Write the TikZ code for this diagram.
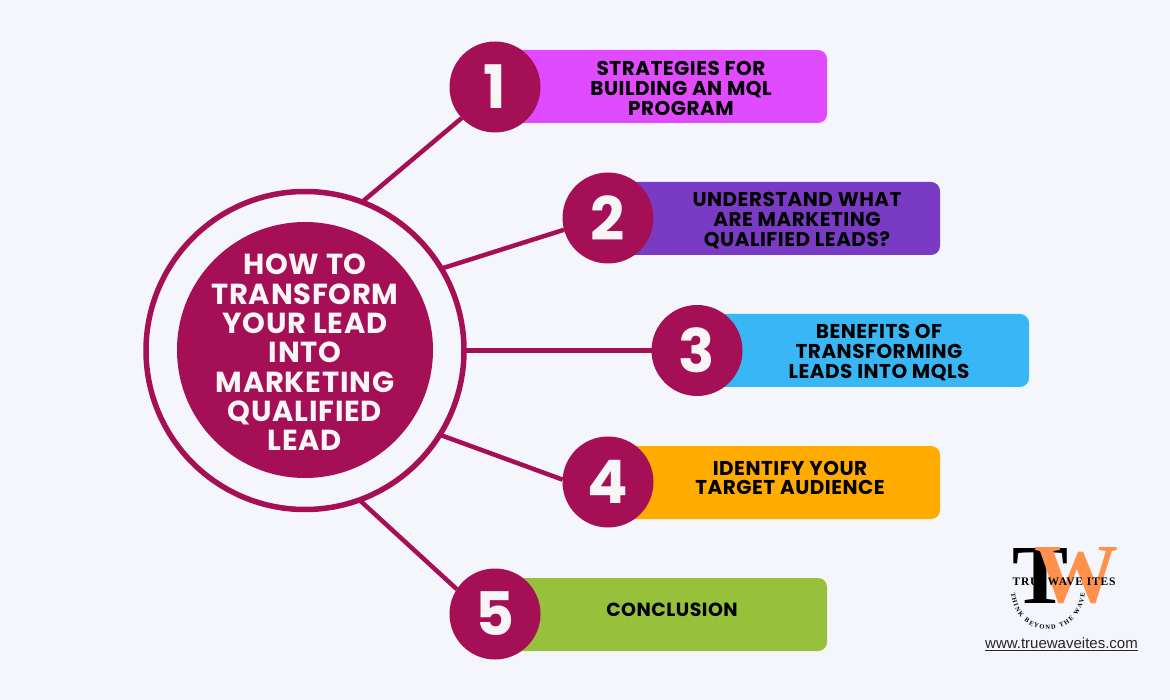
\documentclass[tikz,border=0pt]{standalone}
\usepackage{tikz}
\usepackage{fontspec}
\setmainfont{Poppins}[LetterSpace=2.5]
\newfontfamily\logofont[LetterSpace=7]{Liberation Serif}
\newfontfamily\arcfont[LetterSpace=4]{Liberation Serif}
\newfontfamily\urlfont{Liberation Sans}
\usetikzlibrary{positioning}
\usetikzlibrary{decorations.text}
\definecolor{pagebg}{HTML}{F4F6FC}
\definecolor{maroon}{HTML}{A50F55}
\definecolor{barpink}{HTML}{E04BFF}
\definecolor{barpurple}{HTML}{7A3BC4}
\definecolor{barblue}{HTML}{38B6F5}
\definecolor{barorange}{HTML}{FFAB00}
\definecolor{bargreen}{HTML}{97C13A}
\definecolor{logoorange}{HTML}{FF914D}
\definecolor{softwhite}{HTML}{F7F5F5}

\begin{document}
\begin{tikzpicture}[x=1pt, y=-1pt,
    every node/.style={inner sep=0pt, outer sep=0pt},
    barbox/.style={rectangle, rounded corners=9pt, minimum width=327pt, minimum height=73pt, anchor=west},
    barlabel/.style={align=center, text=black, font=\fontsize{20}{19.6}\selectfont\bfseries},
    numcircle/.style={circle, fill=maroon, minimum size=91pt, text=softwhite, font=\fontsize{60}{60}\selectfont\bfseries},
    spoke/.style={draw=maroon, line width=4.5pt}]

    \fill[pagebg] (0,0) rectangle (1170,700);

    \node[barbox, fill=barpink] (bar1) at (500,86.5) {};
    \node[barbox, fill=barpurple] (bar2) at (613,218.5) {};
    \node[barbox, fill=barblue] (bar3) at (702,350.5) {};
    \node[barbox, fill=barorange] (bar4) at (613,482.5) {};
    \node[barbox, fill=bargreen] (bar5) at (500,614.5) {};

    \node[numcircle] (num1) at (495,87) {1};
    \node[numcircle] (num2) at (608,218) {2};
    \node[numcircle] (num3) at (697,350.5) {3};
    \node[numcircle] (num4) at (608,482) {4};
    \node[numcircle] (num5) at (495,614) {5};

    \node[barlabel] (label1) at (681,88.5) {STRATEGIES FOR\\BUILDING AN MQL\\PROGRAM};
    \node[barlabel] (label2) at (797,220.5) {UNDERSTAND WHAT\\ARE MARKETING\\QUALIFIED LEADS?};
    \node[barlabel] (label3) at (879,352.5) {BENEFITS OF\\TRANSFORMING\\LEADS INTO MQLS};
    \node[barlabel] (label4) at (790,478) {IDENTIFY YOUR\\TARGET AUDIENCE};
    \node[barlabel, font=\fontsize{19}{19.6}\selectfont\bfseries] (label5) at (672,610) {CONCLUSION};

    \node[circle, draw=maroon, line width=5.5pt, minimum size=318pt] (hub) at (305,350.5) {};
    \node[circle, fill=maroon, minimum size=256pt] (hubdisc) at (305,350) {};
    \node[text=softwhite, align=center, font=\fontsize{29}{29.3}\selectfont\bfseries] (hubtext) at (305,352.5)
        {HOW TO\\TRANSFORM\\YOUR LEAD\\INTO\\MARKETING\\QUALIFIED\\LEAD};

    \draw[spoke] (hub.69.6) -- (num1.223);
    \draw[spoke] (hub.31) -- (num2.195.6);
    \draw[spoke] (hub.east) -- (num3.west);
    \draw[spoke] (hub.-32.6) -- (num4.177);
    \draw[spoke] (hub.-70.8) -- (num5.147);

    \node[text=black, font=\logofont\fontsize{84}{84}\selectfont\bfseries] (logot) at (1041,576) {T};
    \node[text=logoorange, font=\logofont\fontsize{84}{84}\selectfont\bfseries] (logow) at (1076,576) {W};
    \node[text=black, font=\logofont\fontsize{11.5}{11.5}\selectfont\bfseries] (logoname) at (1064,582) {TRUEWAVE ITES};
    \path[decorate, decoration={text along path, text align={fit to path},
          text={|\arcfont\fontsize{6.5}{6.5}\selectfont\bfseries|THINK BEYOND THE WAVE}}]
        (1011,593) .. controls (1016,642) and (1080,642) .. (1085,593);
    \node[text=black!85, font=\urlfont\fontsize{15}{15}\selectfont] (logourl) at (1061.5,644) {\underline{www.truewaveites.com}};
\end{tikzpicture}
\end{document}
